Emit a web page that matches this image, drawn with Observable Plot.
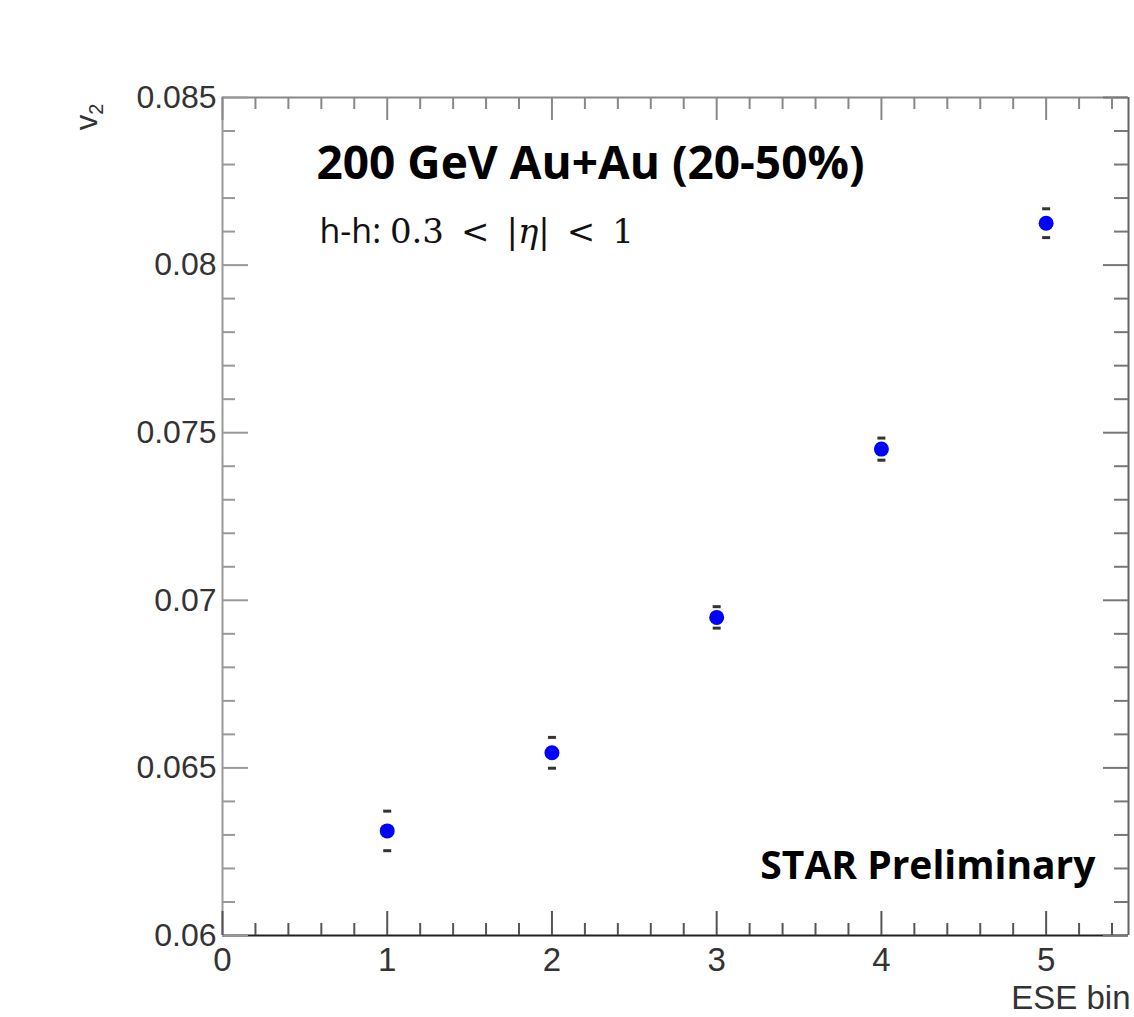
<!DOCTYPE html>
<html>
<head>
<meta charset="utf-8">
<script src="https://cdn.jsdelivr.net/npm/d3@7"></script>
<script src="https://cdn.jsdelivr.net/npm/@observablehq/plot@0.6"></script>
<style>
  html, body { margin: 0; padding: 0; background: #fff; overflow: hidden; }
</style>
</head>
<body>
<div id="chart"></div>
<script>
// ---- data ----
const eseBins = [1, 2, 3, 4, 5];
const v2Values = [0.06312, 0.06545, 0.06949, 0.07451, 0.08125];
const v2Errors = [0.00059, 0.00046, 0.00032, 0.00033, 0.00043];

const xMajorTicks = [0, 1, 2, 3, 4, 5];
const xTickLabels = ["0", "1", "2", "3", "4", "5"];
const yMajorTicks = [0.06, 0.065, 0.07, 0.075, 0.08, 0.085];
const yTickLabels = ["0.06", "0.065", "0.07", "0.075", "0.08", "0.085"];

const titleText = "200 GeV Au+Au (20-50%)";
const subtitleText = "h-h: 0.3\u2002<\u2002|η|\u2002<\u20021";
const watermarkText = "STAR Preliminary";
const xLabelText = "ESE bin";
const yLabelText = "v2";

// ---- layout ----
const W = 1134, H = 1017;
const mL = 222, mR = 6, mT = 97, mB = 82;
const fw = W - mL - mR, fh = H - mT - mB;

const points = eseBins.map((b, i) => ({bin: b, v2: v2Values[i], err: v2Errors[i]}));

const xMinor = d3.range(0, 5.5001, 0.2).map(d => +d.toFixed(2)).filter(d => !xMajorTicks.includes(d));
const yMinor = d3.range(0.06, 0.08501, 0.001).map(d => +d.toFixed(3)).filter(d => !yMajorTicks.some(m => Math.abs(m - d) < 1e-9));

const capSymbol = {
  draw(context, size) {
    const r = Math.sqrt(size / Math.PI);
    context.moveTo(-r, 0);
    context.lineTo(r, 0);
  }
};

const sans = "'Liberation Sans', Arial, Helvetica, sans-serif";
const bold = "'Open Sans', 'Noto Sans', sans-serif";

const chart = Plot.plot({
  width: W,
  height: H,
  marginLeft: mL,
  marginRight: mR,
  marginTop: mT,
  marginBottom: mB,
  style: {fontFamily: sans, background: "#fff", overflow: "hidden"},
  x: {domain: [0, 5.5]},
  y: {domain: [0.06, 0.085]},
  marks: [
    // frame
    Plot.ruleX([0], {stroke: "#9a9a9a", strokeWidth: 2}),
    Plot.ruleX([5.5], {stroke: "#666", strokeWidth: 2}),
    Plot.ruleY([0.085], {stroke: "#888", strokeWidth: 2}),
    Plot.ruleY([0.06], {stroke: "#222", strokeWidth: 2}),
    // left ticks
    Plot.tickY(yMinor, {y: d => d, insetRight: fw - 13, stroke: "#999", strokeWidth: 2}),
    Plot.tickY(yMajorTicks, {y: d => d, insetRight: fw - 26, stroke: "#999", strokeWidth: 2}),
    // right ticks
    Plot.tickY(yMinor, {y: d => d, insetLeft: fw - 14, stroke: "#777", strokeWidth: 2}),
    Plot.tickY(yMajorTicks, {y: d => d, insetLeft: fw - 25, stroke: "#777", strokeWidth: 2}),
    // bottom ticks
    Plot.tickX(xMinor, {x: d => d, insetTop: fh - 12, stroke: "#555", strokeWidth: 2}),
    Plot.tickX(xMajorTicks, {x: d => d, insetTop: fh - 24, stroke: "#555", strokeWidth: 2}),
    // top ticks
    Plot.tickX(xMinor, {x: d => d, insetBottom: fh - 12, stroke: "#888", strokeWidth: 2}),
    Plot.tickX(xMajorTicks, {x: d => d, insetBottom: fh - 23, stroke: "#888", strokeWidth: 2}),
    // axes labels
    Plot.axisY({ticks: yMajorTicks, tickSize: 0, tickPadding: 6, fontSize: 32, fill: "#333",
      tickFormat: d => yTickLabels[yMajorTicks.indexOf(d)], label: null}),
    Plot.axisX({ticks: xMajorTicks, tickSize: 0, tickPadding: 12, fontSize: 33, fill: "#333",
      tickFormat: d => xTickLabels[xMajorTicks.indexOf(d)], label: null}),
    // error caps
    Plot.dot(points, {x: "bin", y: d => d.v2 + d.err, symbol: capSymbol, r: 4, fill: "none", stroke: "#333", strokeWidth: 3}),
    Plot.dot(points, {x: "bin", y: d => d.v2 - d.err, symbol: capSymbol, r: 4, fill: "none", stroke: "#333", strokeWidth: 3}),
    // points
    Plot.dot(points, {x: "bin", y: "v2", r: 7.5, fill: "#0000ff", stroke: "none"}),
    // annotations
    Plot.text([titleText], {frameAnchor: "top-left", text: d => d, textAnchor: "start", lineAnchor: "bottom",
      dx: 94, dy: 81, fontSize: 46, fontWeight: "bold", fontFamily: bold, fill: "#000"}),
    Plot.text([subtitleText], {frameAnchor: "top-left", text: d => d, textAnchor: "start", lineAnchor: "bottom",
      dx: 97, dy: 145, fontSize: 34, fontFamily: "'DejaVu Serif', serif", fill: "#111"}),
    Plot.text([watermarkText], {frameAnchor: "bottom-right", text: d => d, textAnchor: "end", lineAnchor: "bottom",
      dx: -33, dy: -57, fontSize: 39, fontWeight: "bold", fontFamily: bold, fill: "#000"}),
    Plot.text([xLabelText], {frameAnchor: "bottom-right", text: d => d, textAnchor: "end", lineAnchor: "bottom",
      dx: 2, dy: 73, fontSize: 33, fill: "#333"}),
    Plot.text([yLabelText], {frameAnchor: "top-left", text: d => d, textAnchor: "end", lineAnchor: "bottom",
      rotate: -90, dx: -126, dy: 6, fontSize: 31, fill: "#333"})
  ]
});

// rich text touches: subtitle fonts / italic eta, and v2 subscript
const svg = d3.select(chart);
svg.selectAll("text").each(function() {
  const t = d3.select(this);
  const content = this.textContent;
  if (content === subtitleText) {
    t.text(null);
    t.append("tspan").attr("font-family", "'Open Sans', sans-serif").text("h-h: ");
    t.append("tspan").text("0.3\u2002<\u2002|");
    t.append("tspan").attr("font-style", "italic").text("η");
    t.append("tspan").text("|\u2002<\u20021");
  } else if (content === yLabelText) {
    t.text(null);
    t.append("tspan").text("v");
    t.append("tspan").attr("font-size", 20).attr("dy", "0.3em").text("2");
  }
});

document.getElementById("chart").appendChild(chart);
</script>
</body>
</html>
